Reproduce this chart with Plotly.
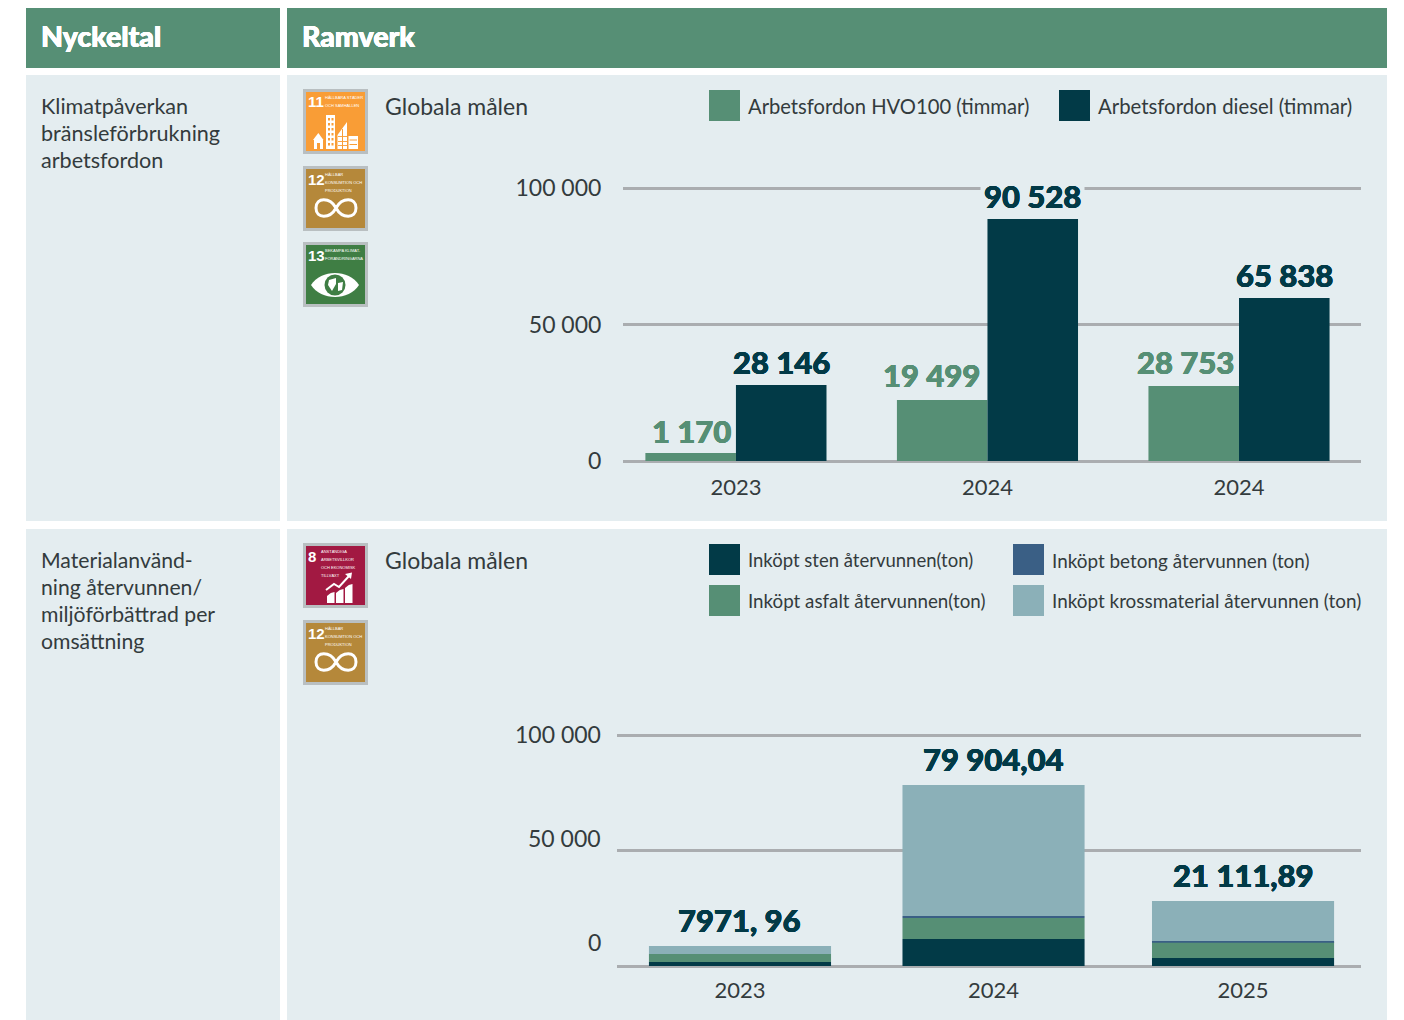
import plotly.graph_objects as go

W, H = 1404, 1020
# ---------- data ----------
years_top = ["2023", "2024", "2024"]
hvo_hours = [2930, 22300, 27500]
diesel_hours = [27800, 88600, 59700]
hvo_labels = ["1 170", "19 499", "28 753"]
diesel_labels = ["28 146", "90 528", "65 838"]

years_bottom = ["2023", "2024", "2025"]
sten = [1730, 11700, 3460]
asfalt = [3460, 9090, 6900]
betong = [0, 870, 430]
kross = [3460, 56700, 17300]
total_labels = ["7971, 96", "79 904,04", "21 111,89"]

y_ticks = [0, 50000, 100000]
y_tick_labels = ["0", "50 000", "100 000"]

GREEN, DARK, BLUE, LIGHT = "#568f75", "#023a47", "#3a5f85", "#8bb0b8"
PANEL, GRID, INK = "#e4edf0", "#aaadb0", "#333b3d"
FONT = "Lato"

def px(x): return x / W
def py(y): return 1 - y / H

def fat(color, d=0.35):
    return f"{d}px 0 0 {color}, -{d}px 0 0 {color}, 0 {d}px 0 {color}, 0 -{d}px 0 {color}"

shapes, ann = [], []

def rect(x0, y0, x1, y1, color, line=None, lw=0):
    shapes.append(dict(type="rect", xref="paper", yref="paper", layer="below",
                       x0=px(x0), x1=px(x1), y0=py(y0), y1=py(y1), fillcolor=color,
                       line=dict(color=line or color, width=lw)))

def top_rect(x0, y0, x1, y1, color):
    shapes.append(dict(type="rect", xref="paper", yref="paper", layer="above",
                       x0=px(x0), x1=px(x1), y0=py(y0), y1=py(y1), fillcolor=color,
                       line=dict(width=0)))

def path(points, fill=None, line=None, lw=0, close=True):
    """points: list of ('M'|'L'|'C', x, y, ...) commands in pixels"""
    out = []
    for cmd in points:
        c = cmd[0]; vals = cmd[1:]
        coords = []
        for i in range(0, len(vals), 2):
            coords.append(f"{px(vals[i]):.5f},{py(vals[i+1]):.5f}")
        out.append(c + " ".join(coords))
    d = " ".join(out) + (" Z" if close else "")
    shapes.append(dict(type="path", xref="paper", yref="paper", layer="above", path=d,
                       fillcolor=fill or "rgba(0,0,0,0)",
                       line=dict(color=line or "rgba(0,0,0,0)", width=lw)))

def circle(cx, cy, r, color):
    shapes.append(dict(type="circle", xref="paper", yref="paper", layer="above",
                       x0=px(cx - r), x1=px(cx + r), y0=py(cy + r), y1=py(cy - r),
                       fillcolor=color, line=dict(width=0)))

def text(x, y, s, size=21, color=INK, anchor="left", weight=None, family=FONT, shadow=None):
    f = dict(family=family, size=size, color=color)
    if weight: f["weight"] = weight
    if shadow: f["shadow"] = shadow
    ann.append(dict(xref="paper", yref="paper", x=px(x), y=py(y), text=s, showarrow=False,
                    xanchor=anchor, yanchor="middle", font=f, borderpad=0, align=anchor))

# ---------- table frame ----------
rect(26, 8, 280, 68, GREEN); rect(287, 8, 1387, 68, GREEN)
rect(26, 75, 280, 521, PANEL); rect(287, 75, 1387, 521, PANEL)
rect(26, 529, 280, 1020, PANEL); rect(287, 529, 1387, 1020, PANEL)
text(40, 36.5, "Nyckeltal", 28.5, "white", weight=900, shadow=fat("white"))
text(301, 36.5, "Ramverk", 28.5, "white", weight=900, shadow=fat("white"))

for y, s in zip([106, 133, 160], ["Klimatpåverkan", "bränsleförbrukning", "arbetsfordon"]):
    text(40, y, s, 21.6)
for y, s in zip([560, 587, 614, 641], ["Materialanvänd-", "ning återvunnen/", "miljöförbättrad per", "omsättning"]):
    text(40, y, s, 21.2)
text(384, 106, "Globala målen", 23)
text(384, 560, "Globala målen", 23)

# ---------- legends ----------
def key(x, y, color, label, size, dy=16):
    rect(x, y, x + 31, y + 31, color)
    text(x + 37.5, y + dy, label, size)
key(709, 90, GREEN, "Arbetsfordon HVO100 (timmar)", 20.2)
key(1059, 90, DARK, "Arbetsfordon diesel (timmar)", 20.35)
key(709, 544, DARK, "Inköpt sten återvunnen(ton)", 18.5)
key(1013, 544, BLUE, "Inköpt betong återvunnen (ton)", 18.9)
key(709, 585, GREEN, "Inköpt asfalt återvunnen(ton)", 18.75, 15)
key(1013, 585, LIGHT, "Inköpt krossmaterial återvunnen (ton)", 18.9, 15)

# ---------- SDG icons ----------
SMALL = "Liberation Sans"
def icon(x, y, color, num, lines):
    rect(x + 1.5, y + 1.5, x + 63.5, y + 63.5, color, "#b9bfc1", 3)
    text(x + 3.5, y + 13, num, 15, "white", weight=700, family=SMALL)
    tx = x + (17 if len(num) == 1 else 21)
    for i, s in enumerate(lines):
        text(tx, y + 8.7 + i * 7.8, s, 4, "white", family=SMALL)

def infinity(x, y):
    cy, L, R = y + 42, x + 13, x + 53
    path([("M", x + 33, cy), ("C", x + 27, cy - 11, x + 13, cy - 11, L, cy),
          ("C", x + 13, cy + 11, x + 27, cy + 11, x + 33, cy),
          ("C", x + 39, cy - 11, x + 53, cy - 11, R, cy),
          ("C", x + 53, cy + 11, x + 39, cy + 11, x + 33, cy)], line="white", lw=3, close=False)

def city(x, y):
    W_ = "white"
    path([("M", x + 10, y + 51), ("L", x + 15.3, y + 44), ("L", x + 20.5, y + 51)], fill=W_)
    top_rect(x + 11, y + 51, x + 20, y + 60, W_); top_rect(x + 14, y + 54, x + 17, y + 60, color_o)
    top_rect(x + 23, y + 26, x + 32, y + 60, W_)
    for yy in (29, 34, 39, 44, 49, 54):
        top_rect(x + 25, y + yy, x + 27, y + yy + 2.5, color_o)
        top_rect(x + 28.5, y + yy, x + 30.5, y + yy + 2.5, color_o)
    path([("M", x + 34.5, y + 60), ("L", x + 34.5, y + 46), ("L", x + 44, y + 33), ("L", x + 44, y + 60)], fill=W_)
    for yy in (47, 52, 56):
        top_rect(x + 35, y + yy, x + 44, y + yy + 0.9, color_o)
    top_rect(x + 39, y + 40, x + 40, y + 60, color_o)
    top_rect(x + 45.5, y + 47, x + 55, y + 60, W_)
    for yy in (50.5, 55):
        top_rect(x + 46.5, y + yy, x + 54, y + yy + 1, color_o)

def eye(x, y):
    cx, cy = x + 32, y + 43
    path([("M", x + 8, cy), ("C", x + 18, cy - 16, x + 46, cy - 16, x + 56, cy),
          ("C", x + 46, cy + 16, x + 18, cy + 16, x + 8, cy)], fill="white")
    circle(cx, cy, 10.5, color_g)
    path([("M", cx - 6, cy - 5), ("L", cx + 1, cy - 7), ("L", cx + 1, cy - 1), ("L", cx - 3, cy + 6), ("L", cx - 7, cy)], fill="white")
    path([("M", cx + 3, cy - 2), ("L", cx + 8, cy - 3), ("L", cx + 7, cy + 5), ("L", cx + 3, cy + 6)], fill="white")

def growth(x, y):
    for a, t in ((24, 50), (33, 47), (42, 42)):
        path([("M", x + a, y + 60), ("L", x + a, y + t + 3), ("L", x + a + 3.8, y + t), ("L", x + a + 7.5, y + t - 1), ("L", x + a + 7.5, y + 60)], fill="white")
    path([("M", x + 23, y + 47), ("L", x + 31, y + 41), ("L", x + 36, y + 44), ("L", x + 46, y + 33)], line="white", lw=2, close=False)
    path([("M", x + 42, y + 31), ("L", x + 49, y + 29.5), ("L", x + 48, y + 36)], fill="white")

color_o, color_b, color_g, color_r = "#f99d36", "#b5883a", "#3f7e44", "#a21942"
icon(303, 89, color_o, "11", ["HÅLLBARA STÄDER", "OCH SAMHÄLLEN"]); city(303, 89)
icon(303, 166, color_b, "12", ["HÅLLBAR", "KONSUMTION OCH", "PRODUKTION"]); infinity(303, 166)
icon(303, 242, color_g, "13", ["BEKÄMPA KLIMAT-", "FÖRÄNDRINGARNA"]); eye(303, 242)
icon(303, 543, color_r, "8", ["ANSTÄNDIGA", "ARBETSVILLKOR", "OCH EKONOMISK", "TILLVÄXT"]); growth(303, 543)
icon(303, 620, color_b, "12", ["HÅLLBAR", "KONSUMTION OCH", "PRODUKTION"]); infinity(303, 620)

# ---------- charts ----------
xi = [0, 1, 2]
xi2 = [0, 1.008, 2]   # the reference's middle stack sits slightly right of centre
fig = go.Figure()
fig.add_bar(x=xi, y=hvo_hours, name="Arbetsfordon HVO100 (timmar)", marker=dict(color=GREEN, line_width=0), xaxis="x", yaxis="y", offsetgroup="a")
fig.add_bar(x=xi, y=diesel_hours, name="Arbetsfordon diesel (timmar)", marker=dict(color=DARK, line_width=0), xaxis="x", yaxis="y", offsetgroup="b")

base = [0, 0, 0]
for name, vals, col in [("Inköpt sten återvunnen(ton)", sten, DARK), ("Inköpt asfalt återvunnen(ton)", asfalt, GREEN),
                        ("Inköpt betong återvunnen (ton)", betong, BLUE), ("Inköpt krossmaterial återvunnen (ton)", kross, LIGHT)]:
    fig.add_bar(x=xi2, y=vals, base=list(base), width=0.724, name=name, marker=dict(color=col, line_width=0), xaxis="x2", yaxis="y2", offsetgroup="s")
    base = [b + v for b, v in zip(base, vals)]

def vlabel(x, y, s, color, xref, yref, shift=0, ys=0, bg=None, pad=0):
    ann.append(dict(x=x, y=y, xref=xref, yref=yref, text=s, showarrow=False, xanchor="center", yanchor="bottom",
                    xshift=shift, yshift=ys, font=dict(family=FONT, size=31, weight=900, color=color, shadow=fat(color)),
                    bgcolor=bg, borderpad=pad))
for i in xi:
    vlabel(i - 0.18, hvo_hours[i], hvo_labels[i], GREEN, "x", "y", [1, -11, -8][i], [2, 5, 4][i])
    vlabel(i + 0.18, diesel_hours[i], diesel_labels[i], DARK, "x", "y", ys=0 if i == 1 else 3, bg=PANEL if i == 1 else None, pad=3 if i == 1 else 0)
    vlabel(xi2[i], base[i], total_labels[i], DARK, "x2", "y2", ys=6)

# lower chart: the reference's y labels do not line up with its gridlines, so they are placed as text
for y, s in zip([942, 838, 734], y_tick_labels):
    text(602, y, s, 23, anchor="right")

def axes(left, right, y0, y100, labels, xmin, xmax, ylen, tickx, xlen, show_y=True):
    pad = 1000  # keeps the 0 and 100 000 gridlines from being clipped at the range ends
    k = (y0 - y100) / 100000 * pad
    xa = dict(domain=[px(left), px(right)], range=[xmin, xmax], tickmode="array", tickvals=tickx, ticktext=labels,
              showgrid=False, zeroline=False, showline=False, ticks="outside", ticklen=xlen, tickcolor="rgba(0,0,0,0)",
              tickfont=dict(family=FONT, size=22, color=INK), fixedrange=True, automargin=False)
    ya = dict(domain=[py(y0 + k), py(y100 - k)], range=[-pad, 100000 + pad], tickmode="array", tickvals=y_ticks,
              ticktext=y_tick_labels, showticklabels=show_y, showgrid=True, gridcolor=GRID, gridwidth=2.5, zeroline=False,
              showline=False, ticks="outside", ticklen=ylen, tickcolor="rgba(0,0,0,0)",
              tickfont=dict(family=FONT, size=23, color=INK), fixedrange=True, automargin=False)
    return xa, ya

xa1, ya1 = axes(623, 1361, 461, 188, years_top, -0.449, 2.485, 16, xi, 4)
xa2, ya2 = axes(617, 1361, 966, 735, years_bottom, -0.489, 2.469, 10, xi2, 2, show_y=False)
xa2["anchor"] = "y2"; ya2["anchor"] = "x2"
xa1["anchor"] = "y"; ya1["anchor"] = "x"

fig.update_layout(width=W, height=H, autosize=False, margin=dict(l=0, r=0, t=0, b=0), showlegend=False,
                  paper_bgcolor="white", plot_bgcolor="rgba(0,0,0,0)", barmode="group", bargap=0.28, bargroupgap=0,
                  xaxis=xa1, yaxis=ya1, xaxis2=xa2, yaxis2=ya2, shapes=shapes, annotations=ann,
                  font=dict(family=FONT, color=INK))
fig.write_html("out.html", config=dict(displayModeBar=False),
               post_script="document.body.style.margin='0';")
